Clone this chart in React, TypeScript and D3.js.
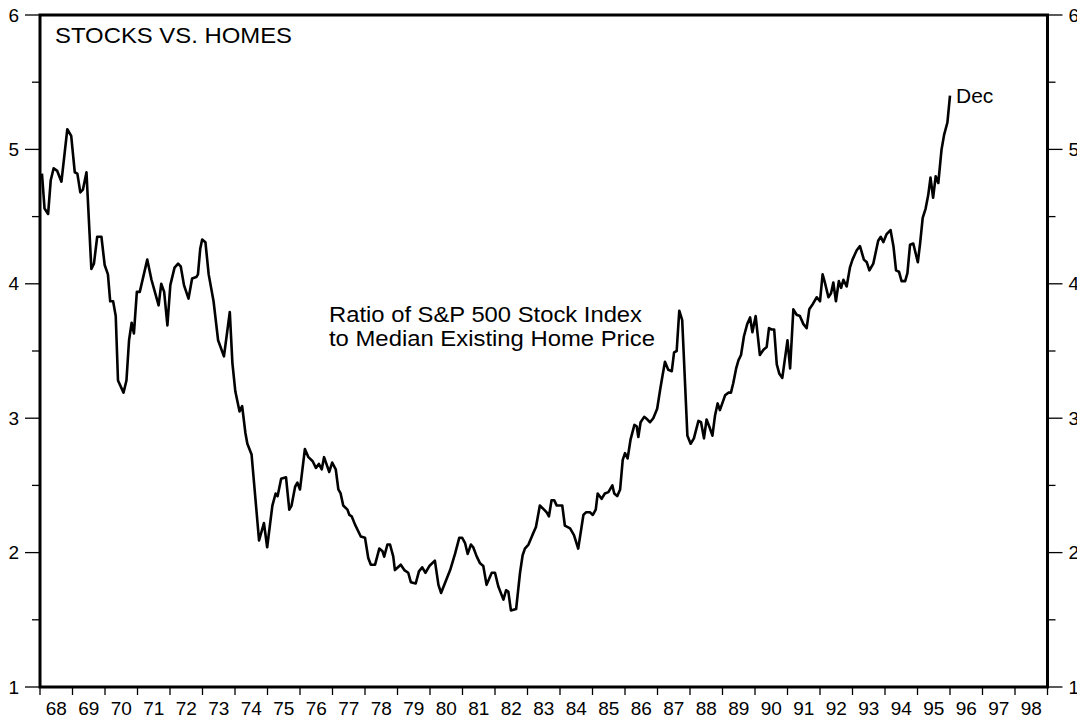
import React, { useEffect, useRef } from 'react';
import * as d3 from 'd3';

// ratio of S&P 500 index to median existing home price
const years = [
  1968.06, 1968.14, 1968.25, 1968.33, 1968.42, 1968.53, 1968.66, 1968.84, 1968.96,
  1969.07, 1969.15, 1969.24, 1969.32, 1969.43, 1969.58, 1969.66, 1969.76, 1969.89, 1969.99,
  1970.09, 1970.16, 1970.25, 1970.33, 1970.40, 1970.57, 1970.66, 1970.74, 1970.82, 1970.89, 1970.98,
  1971.07, 1971.30, 1971.43, 1971.65, 1971.73, 1971.82, 1971.92,
  1972.01, 1972.14, 1972.25, 1972.33, 1972.43, 1972.57, 1972.68, 1972.81, 1972.86, 1972.93, 1972.99,
  1973.09, 1973.19, 1973.34, 1973.48, 1973.66, 1973.84, 1973.92,
  1974.01, 1974.14, 1974.22, 1974.32, 1974.38, 1974.51, 1974.74, 1974.89, 1974.99,
  1975.15, 1975.25, 1975.31, 1975.42, 1975.57, 1975.67, 1975.74, 1975.85, 1975.92,
  1976.00, 1976.15, 1976.26, 1976.39, 1976.49, 1976.58, 1976.67, 1976.74, 1976.90, 1976.99,
  1977.10, 1977.18, 1977.25, 1977.33, 1977.46, 1977.52, 1977.59, 1977.69, 1977.77, 1977.87,
  1978.00, 1978.10, 1978.18, 1978.31, 1978.44, 1978.54, 1978.59, 1978.69, 1978.77, 1978.87, 1978.92,
  1979.10, 1979.21, 1979.33, 1979.41, 1979.56, 1979.66, 1979.76, 1979.86, 1979.98,
  1980.15, 1980.26, 1980.34, 1980.62, 1980.77, 1980.90, 1980.99,
  1981.08, 1981.16, 1981.26, 1981.33, 1981.44, 1981.54, 1981.64, 1981.74, 1981.90,
  1982.00, 1982.10, 1982.26, 1982.34, 1982.41, 1982.49, 1982.65, 1982.77, 1982.85, 1982.92,
  1983.03, 1983.15, 1983.26, 1983.38, 1983.51, 1983.59, 1983.66, 1983.74, 1983.82, 1983.90,
  1984.07, 1984.15, 1984.31, 1984.43, 1984.56, 1984.65, 1984.72, 1984.80, 1984.92,
  1985.01, 1985.10, 1985.16, 1985.28, 1985.38, 1985.49, 1985.61, 1985.67, 1985.76, 1985.85, 1985.93,
  1986.00, 1986.08, 1986.17, 1986.29, 1986.36, 1986.41, 1986.48, 1986.59, 1986.69, 1986.77, 1986.87, 1986.99,
  1987.08, 1987.15, 1987.23, 1987.33, 1987.44, 1987.51, 1987.59, 1987.67, 1987.76, 1987.92,
  1988.02, 1988.12, 1988.26, 1988.34, 1988.43, 1988.51, 1988.59, 1988.69, 1988.77, 1988.85, 1988.92,
  1989.08, 1989.18, 1989.26, 1989.33, 1989.42, 1989.49, 1989.57, 1989.66, 1989.76, 1989.85, 1989.92,
  1990.02, 1990.15, 1990.26, 1990.36, 1990.43, 1990.51, 1990.59, 1990.67, 1990.75, 1990.84,
  1991.00, 1991.08, 1991.18, 1991.28, 1991.38, 1991.49, 1991.59, 1991.67, 1991.78, 1991.90,
  1992.00, 1992.08, 1992.15, 1992.26, 1992.34, 1992.41, 1992.49, 1992.58, 1992.65, 1992.72, 1992.82, 1992.92,
  1993.00, 1993.13, 1993.23, 1993.35, 1993.44, 1993.52, 1993.64, 1993.79, 1993.87, 1993.95,
  1994.05, 1994.17, 1994.26, 1994.34, 1994.43, 1994.51, 1994.62, 1994.69, 1994.77, 1994.87,
  1995.01, 1995.08, 1995.16, 1995.25, 1995.33, 1995.40, 1995.48, 1995.56, 1995.64, 1995.74, 1995.82, 1995.92, 1996.00,
];

const ratio = [
  4.82, 4.56, 4.52, 4.77, 4.86, 4.84, 4.76, 5.15, 5.10,
  4.83, 4.82, 4.68, 4.70, 4.83, 4.11, 4.15, 4.35, 4.35, 4.14,
  4.07, 3.87, 3.87, 3.76, 3.28, 3.19, 3.28, 3.58, 3.71, 3.63, 3.94,
  3.94, 4.18, 4.03, 3.84, 4.00, 3.94, 3.69,
  3.99, 4.12, 4.15, 4.13, 3.99, 3.89, 4.04, 4.05, 4.07, 4.26, 4.33,
  4.31, 4.07, 3.87, 3.58, 3.46, 3.79, 3.41,
  3.20, 3.05, 3.09, 2.89, 2.81, 2.73, 2.09, 2.22, 2.04,
  2.35, 2.44, 2.42, 2.55, 2.56, 2.32, 2.35, 2.49, 2.52,
  2.47, 2.77, 2.71, 2.68, 2.63, 2.66, 2.62, 2.71, 2.60, 2.67,
  2.62, 2.47, 2.44, 2.35, 2.32, 2.28, 2.27, 2.21, 2.17, 2.12,
  2.11, 1.96, 1.91, 1.91, 2.03, 2.01, 1.97, 2.06, 2.06, 1.97, 1.87,
  1.91, 1.87, 1.85, 1.78, 1.77, 1.86, 1.89, 1.85, 1.90,
  1.94, 1.76, 1.70, 1.87, 1.99, 2.11, 2.11,
  2.07, 1.99, 2.06, 2.04, 1.97, 1.92, 1.90, 1.76, 1.85,
  1.85, 1.75, 1.65, 1.72, 1.71, 1.57, 1.58, 1.85, 1.98, 2.03,
  2.06, 2.13, 2.19, 2.35, 2.32, 2.30, 2.27, 2.39, 2.39, 2.35,
  2.35, 2.20, 2.18, 2.13, 2.03, 2.17, 2.28, 2.30, 2.30,
  2.28, 2.32, 2.44, 2.40, 2.44, 2.45, 2.50, 2.44, 2.42, 2.47, 2.69,
  2.74, 2.70, 2.84, 2.95, 2.94, 2.86, 2.97, 3.01, 2.99, 2.97, 3.00, 3.07,
  3.21, 3.31, 3.42, 3.36, 3.35, 3.49, 3.50, 3.80, 3.73, 2.87,
  2.81, 2.85, 2.98, 2.97, 2.85, 2.99, 2.94, 2.87, 3.02, 3.11, 3.06,
  3.17, 3.19, 3.19, 3.26, 3.37, 3.43, 3.47, 3.61, 3.70, 3.75, 3.64,
  3.76, 3.47, 3.51, 3.53, 3.67, 3.66, 3.66, 3.40, 3.33, 3.30,
  3.58, 3.37, 3.81, 3.77, 3.76, 3.70, 3.67, 3.81, 3.85, 3.90,
  3.87, 4.07, 4.01, 3.90, 3.93, 4.01, 3.87, 4.02, 3.97, 4.03, 3.98, 4.12,
  4.18, 4.25, 4.28, 4.18, 4.16, 4.10, 4.15, 4.32, 4.35, 4.31,
  4.37, 4.40, 4.28, 4.10, 4.09, 4.02, 4.02, 4.08, 4.29, 4.30,
  4.16, 4.30, 4.49, 4.56, 4.66, 4.79, 4.64, 4.80, 4.75, 5.00, 5.11, 5.20, 5.40,
];

const yTicks = [1, 2, 3, 4, 5, 6];
const yMinor = [1.5, 2.5, 3.5, 4.5, 5.5];
const yearLabels = d3.range(68, 99).map(String);

const FONT = 'Liberation Sans, Arial, Helvetica, sans-serif';

const App: React.FC = () => {
  const svgRef = useRef<SVGSVGElement>(null);

  useEffect(() => {
    if (!svgRef.current) return;
    const svg = d3.select(svgRef.current);
    svg.selectAll('*').remove();

    const left = 40, right = 1047.5, top = 15, bottom = 687;
    const x = d3.scaleLinear().domain([1968, 1999]).range([left, right]);
    const y = d3.scaleLinear().domain([1, 6]).range([bottom, top]);

    // left axis ticks + labels
    svg.selectAll('.ytl').data(yTicks).enter().append('line')
      .attr('x1', left - 15).attr('x2', left)
      .attr('y1', d => y(d)).attr('y2', d => y(d))
      .attr('stroke', '#000').attr('stroke-width', 1.3);
    svg.selectAll('.ymL').data(yMinor).enter().append('line')
      .attr('x1', left - 8).attr('x2', left)
      .attr('y1', d => y(d)).attr('y2', d => y(d))
      .attr('stroke', '#000').attr('stroke-width', 1.3);
    svg.selectAll('.ylabL').data(yTicks).enter().append('text')
      .attr('x', 19).attr('y', d => y(d)).attr('dy', '0.35em')
      .attr('text-anchor', 'end')
      .style('font-family', FONT).style('font-size', '19px')
      .text(d => d);

    // right axis (labels run off the page edge, as in the original)
    svg.selectAll('.ytr').data(yTicks).enter().append('line')
      .attr('x1', right).attr('x2', right + 15)
      .attr('y1', d => y(d)).attr('y2', d => y(d))
      .attr('stroke', '#000').attr('stroke-width', 1.3);
    svg.selectAll('.ymR').data(yMinor).enter().append('line')
      .attr('x1', right).attr('x2', right + 8)
      .attr('y1', d => y(d)).attr('y2', d => y(d))
      .attr('stroke', '#000').attr('stroke-width', 1.3);
    svg.selectAll('.ylabR').data(yTicks).enter().append('text')
      .attr('x', right + 21).attr('y', d => y(d)).attr('dy', '0.35em')
      .style('font-family', FONT).style('font-size', '19px')
      .text(d => d);

    // x ticks at year boundaries, labels mid-year
    svg.selectAll('.xt').data(d3.range(1968, 2000)).enter().append('line')
      .attr('x1', d => x(d)).attr('x2', d => x(d))
      .attr('y1', bottom).attr('y2', bottom + 8)
      .attr('stroke', '#000').attr('stroke-width', 1.3);
    svg.selectAll('.xl').data(yearLabels).enter().append('text')
      .attr('x', d => x(1900 + +d + 0.5)).attr('y', 715)
      .attr('text-anchor', 'middle')
      .style('font-family', FONT).style('font-size', '19px')
      .text(d => d);

    // frame
    svg.append('rect')
      .attr('x', left).attr('y', top)
      .attr('width', right - left).attr('height', bottom - top)
      .attr('fill', 'none').attr('stroke', '#000').attr('stroke-width', 3);

    // series
    const line = d3.line<number>()
      .x((_, i) => x(years[i]))
      .y(d => y(d));
    svg.append('path')
      .datum(ratio)
      .attr('d', line)
      .attr('fill', 'none')
      .attr('stroke', '#000')
      .attr('stroke-width', 2.6)
      .attr('stroke-linejoin', 'round');

    // text -- original face is a bit wider than Arial, so stretch a little
    svg.append('text')
      .attr('x', 55).attr('y', 43)
      .attr('textLength', 237).attr('lengthAdjust', 'spacingAndGlyphs')
      .style('font-family', FONT).style('font-size', '22px')
      .text('STOCKS VS. HOMES');

    const note = svg.append('text')
      .style('font-family', FONT).style('font-size', '22px');
    note.append('tspan').attr('x', 329).attr('y', 322)
      .attr('textLength', 313).attr('lengthAdjust', 'spacingAndGlyphs')
      .text('Ratio of S&P 500 Stock Index');
    note.append('tspan').attr('x', 329).attr('y', 346)
      .attr('textLength', 326).attr('lengthAdjust', 'spacingAndGlyphs')
      .text('to Median Existing Home Price');

    const last = years.length - 1;
    svg.append('text')
      .attr('x', x(years[last]) + 6).attr('y', y(ratio[last]) + 7)
      .style('font-family', FONT).style('font-size', '21px')
      .text('Dec');
  }, []);

  return (
    <svg
      ref={svgRef}
      width={1077}
      height={719}
      style={{ position: 'absolute', left: 0, top: 0, background: '#fff' }}
    />
  );
};

export default App;
